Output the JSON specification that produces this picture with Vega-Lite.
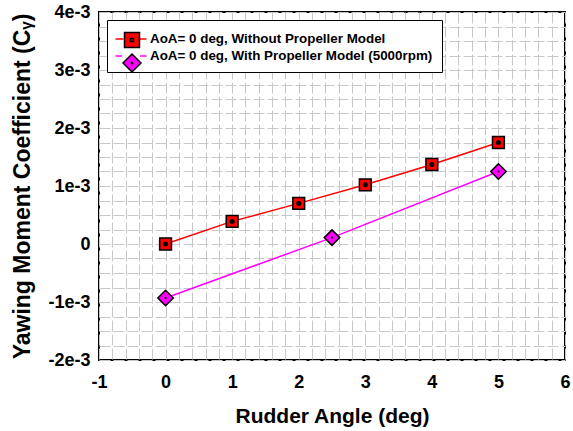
{
  "$schema": "https://vega.github.io/schema/vega-lite/v6.json",
  "width": 466,
  "height": 348,
  "autosize": "none",
  "padding": {"left": 99, "top": 12, "right": 8, "bottom": 71},
  "background": "white",
  "config": {
    "view": {"stroke": "black", "strokeWidth": 2},
    "font": "Liberation Sans"
  },
  "data": {
    "values": [
      {"series": "AoA= 0 deg, Without Propeller Model", "angle": 0, "cy": 0.0},
      {"series": "AoA= 0 deg, Without Propeller Model", "angle": 1, "cy": 0.00039},
      {"series": "AoA= 0 deg, Without Propeller Model", "angle": 2, "cy": 0.0007},
      {"series": "AoA= 0 deg, Without Propeller Model", "angle": 3, "cy": 0.00102},
      {"series": "AoA= 0 deg, Without Propeller Model", "angle": 4, "cy": 0.00137},
      {"series": "AoA= 0 deg, Without Propeller Model", "angle": 5, "cy": 0.00175},
      {"series": "AoA= 0 deg, With Propeller Model (5000rpm)", "angle": 0, "cy": -0.00093},
      {"series": "AoA= 0 deg, With Propeller Model (5000rpm)", "angle": 2.5, "cy": 0.00011},
      {"series": "AoA= 0 deg, With Propeller Model (5000rpm)", "angle": 5, "cy": 0.00125}
    ]
  },
  "encoding": {
    "x": {
      "field": "angle",
      "type": "quantitative",
      "scale": {"domain": [-1, 6], "nice": false, "zero": false},
      "axis": {
        "title": "Rudder Angle (deg)",
        "values": [-1, -0.8, -0.6, -0.4, -0.2, 0, 0.2, 0.4, 0.6, 0.8, 1, 1.2, 1.4, 1.6, 1.8, 2, 2.2, 2.4, 2.6, 2.8, 3, 3.2, 3.4, 3.6, 3.8, 4, 4.2, 4.4, 4.6, 4.8, 5, 5.2, 5.4, 5.6, 5.8, 6],
        "labelExpr": "abs(datum.value - round(datum.value)) < 1e-6 ? '' + round(datum.value) : ''",
        "labelOverlap": false,
        "labelFlush": false,
        "ticks": false,
        "domain": false,
        "grid": true,
        "gridColor": "#c8c8c8",
        "gridDash": [11, 3],
        "gridWidth": 1,
        "labelFont": "Liberation Sans",
        "labelFontWeight": "bold",
        "labelFontSize": 18,
        "labelColor": "black",
        "labelPadding": 13,
        "titleFont": "Liberation Sans",
        "titleFontWeight": "bold",
        "titleFontSize": 21,
        "titleColor": "black",
        "titlePadding": 14
      }
    },
    "y": {
      "field": "cy",
      "type": "quantitative",
      "scale": {"domain": [-0.002, 0.004], "nice": false, "zero": false},
      "axis": {
        "title": "Yawing Moment Coefficient (Cᵧ)",
        "values": [-0.002, -0.00175, -0.0015, -0.00125, -0.001, -0.00075, -0.0005, -0.00025, 0, 0.00025, 0.0005, 0.00075, 0.001, 0.00125, 0.0015, 0.00175, 0.002, 0.00225, 0.0025, 0.00275, 0.003, 0.00325, 0.0035, 0.00375, 0.004],
        "labelExpr": "abs(datum.value * 1000 - round(datum.value * 1000)) < 1e-6 ? (datum.value == 0 ? '0' : round(datum.value * 1000) + 'e-3') : ''",
        "labelOverlap": false,
        "labelFlush": false,
        "ticks": false,
        "domain": false,
        "grid": true,
        "gridColor": "#c8c8c8",
        "gridDash": [11, 3],
        "gridWidth": 1,
        "labelFont": "Liberation Sans",
        "labelFontWeight": "bold",
        "labelFontSize": 18,
        "labelColor": "black",
        "labelPadding": 9,
        "titleFont": "Liberation Sans",
        "titleFontWeight": "bold",
        "titleFontSize": 23,
        "titleColor": "black",
        "titlePadding": 13
      }
    }
  },
  "layer": [
    {
      "mark": {"type": "line", "strokeWidth": 1.5},
      "encoding": {
        "stroke": {
          "field": "series",
          "type": "nominal",
          "scale": {
            "domain": ["AoA= 0 deg, Without Propeller Model", "AoA= 0 deg, With Propeller Model (5000rpm)"],
            "range": ["#ff0000", "#ff00ff"]
          },
          "legend": null
        }
      }
    },
    {
      "mark": {"type": "point", "filled": true, "stroke": "black", "strokeWidth": 1.5, "opacity": 1},
      "encoding": {
        "shape": {
          "field": "series",
          "type": "nominal",
          "scale": {
            "domain": ["AoA= 0 deg, Without Propeller Model", "AoA= 0 deg, With Propeller Model (5000rpm)"],
            "range": ["square", "diamond"]
          },
          "legend": null
        },
        "fill": {
          "field": "series",
          "type": "nominal",
          "scale": {
            "domain": ["AoA= 0 deg, Without Propeller Model", "AoA= 0 deg, With Propeller Model (5000rpm)"],
            "range": ["#ff0000", "#ff00ff"]
          },
          "legend": null
        },
        "size": {
          "field": "series",
          "type": "ordinal",
          "scale": {
            "domain": ["AoA= 0 deg, Without Propeller Model", "AoA= 0 deg, With Propeller Model (5000rpm)"],
            "range": [140, 240]
          },
          "legend": null
        }
      }
    },
    {
      "mark": {"type": "point", "filled": true, "color": "black", "shape": "circle", "opacity": 1},
      "encoding": {
        "size": {
          "field": "series",
          "type": "ordinal",
          "scale": {
            "domain": ["AoA= 0 deg, Without Propeller Model", "AoA= 0 deg, With Propeller Model (5000rpm)"],
            "range": [25, 5]
          },
          "legend": null
        }
      }
    },
    {
      "transform": [{"filter": "datum.angle > 100"}],
      "mark": {"type": "point", "filled": true, "opacity": 1, "strokeWidth": 0},
      "encoding": {
        "color": {
          "field": "series",
          "type": "nominal",
          "scale": {
            "domain": ["AoA= 0 deg, Without Propeller Model", "AoA= 0 deg, With Propeller Model (5000rpm)"],
            "range": ["#ff0000", "#ff00ff"]
          },
          "legend": {
            "title": null, "orient": "none", "legendX": 8, "legendY": 8, "direction": "vertical",
            "symbolSize": 400, "symbolOffset": 5, "padding": 9, "rowPadding": 0,
            "symbolFillColor": "#ff0000", "symbolStrokeWidth": 0, "symbolOpacity": 1,
            "labelOffset": 9, "labelFont": "Liberation Sans", "labelFontWeight": "bold", "labelFontSize": 13.4,
            "labelColor": "black", "labelLimit": 0, "fillColor": "white", "strokeColor": "black"
          }
        },
        "shape": {
          "field": "series",
          "type": "nominal",
          "scale": {
            "domain": ["AoA= 0 deg, Without Propeller Model", "AoA= 0 deg, With Propeller Model (5000rpm)"],
            "range": ["M-1.55,-0.075H-0.75V0.075H-1.55Z M0.75,-0.075H1.55V0.075H0.75Z", "M-1.55,-0.075H-0.9V0.075H-1.55Z M0.9,-0.075H1.55V0.075H0.9Z"]
          },
          "legend": {
            "title": null, "orient": "none", "legendX": 8, "legendY": 8, "direction": "vertical",
            "symbolSize": 400, "symbolOffset": 5, "padding": 9, "rowPadding": 0,
            "symbolFillColor": "#ff0000", "symbolStrokeWidth": 0, "symbolOpacity": 1,
            "labelOffset": 9, "labelFont": "Liberation Sans", "labelFontWeight": "bold", "labelFontSize": 13.4,
            "labelColor": "black", "labelLimit": 0, "fillColor": "white", "strokeColor": "black"
          }
        }
      }
    },
    {
      "transform": [{"filter": "datum.angle > 100"}],
      "mark": {"type": "point", "filled": true, "opacity": 1, "stroke": "black", "strokeWidth": 1.5},
      "encoding": {
        "color": {
          "field": "series",
          "type": "nominal",
          "scale": {
            "domain": ["AoA= 0 deg, Without Propeller Model", "AoA= 0 deg, With Propeller Model (5000rpm)"],
            "range": ["#ff0000", "#ff00ff"]
          },
          "legend": {
            "title": null, "orient": "none", "legendX": 8, "legendY": 8, "direction": "vertical",
            "symbolSize": 400, "symbolOffset": 5, "padding": 9, "rowPadding": 0,
            "symbolFillColor": "#ff0000", "symbolStrokeColor": "black", "symbolStrokeWidth": 1.5, "symbolOpacity": 1,
            "labelOffset": 9, "labelFont": "Liberation Sans", "labelFontWeight": "bold", "labelFontSize": 13.4,
            "labelColor": "transparent", "labelLimit": 0
          }
        },
        "shape": {
          "field": "series",
          "type": "nominal",
          "scale": {
            "domain": ["AoA= 0 deg, Without Propeller Model", "AoA= 0 deg, With Propeller Model (5000rpm)"],
            "range": ["M-0.75,-0.75H0.75V0.75H-0.75Z M-0.15,-0.15H0.15V0.15H-0.15Z", "M0,-0.9L0.9,0L0,0.9L-0.9,0Z M-0.05,-0.05H0.05V0.05H-0.05Z"]
          },
          "legend": {
            "title": null, "orient": "none", "legendX": 8, "legendY": 8, "direction": "vertical",
            "symbolSize": 400, "symbolOffset": 5, "padding": 9, "rowPadding": 0,
            "symbolFillColor": "#ff0000", "symbolStrokeColor": "black", "symbolStrokeWidth": 1.5, "symbolOpacity": 1,
            "labelOffset": 9, "labelFont": "Liberation Sans", "labelFontWeight": "bold", "labelFontSize": 13.4,
            "labelColor": "transparent", "labelLimit": 0
          }
        }
      }
    }
  ],
  "resolve": {
    "scale": {"shape": "independent", "size": "independent", "color": "independent"},
    "legend": {"shape": "independent", "color": "independent"}
  }
}
